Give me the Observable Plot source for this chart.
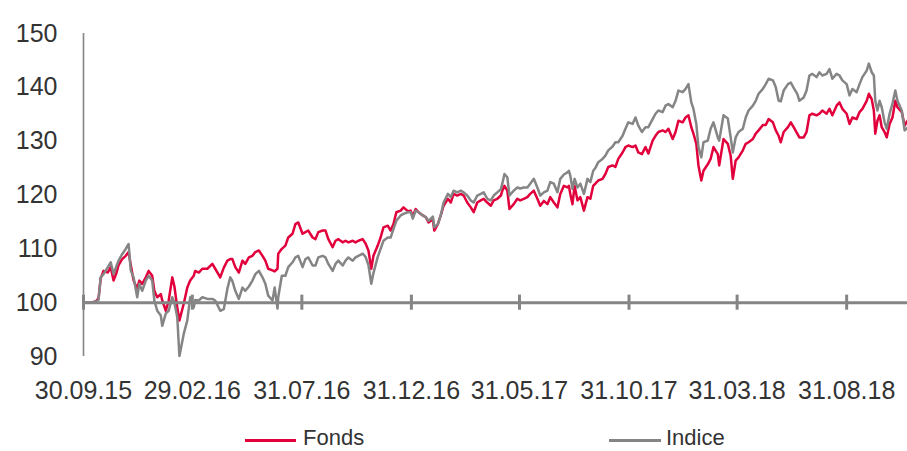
<!DOCTYPE html>
<html>
<head>
<meta charset="utf-8">
<script src="https://cdn.jsdelivr.net/npm/d3@7"></script>
<script src="https://cdn.jsdelivr.net/npm/@observablehq/plot@0.6"></script>
<style>
  html, body { margin: 0; padding: 0; background: #fff; }
  #wrap { position: relative; width: 907px; height: 451px; overflow: hidden; font-family: "Liberation Sans", Arial, sans-serif; }
  #chart svg { display: block; }
  .lg { position: absolute; top: 427px; font-size: 22px; color: #333; line-height: 22px; height: 23px; white-space: nowrap; }
  .lg .sw { position: absolute; top: 12px; height: 3px; }
</style>
</head>
<body>
<div id="wrap">
  <div id="chart"></div>
  <div class="lg" style="left:245px;"><span class="sw" style="left:0;width:51px;background:#E2003C;"></span><span style="margin-left:58px;">Fonds</span></div>
  <div class="lg" style="left:609px;"><span class="sw" style="left:0;width:52px;background:#858585;"></span><span style="margin-left:57px;">Indice</span></div>
</div>
<script>
const dates = [
"2015-09-30","2015-10-10","2015-10-17","2015-10-21","2015-10-24","2015-10-28","2015-11-03","2015-11-07","2015-11-11","2015-11-15",
"2015-11-18","2015-11-23","2015-11-28","2015-12-02","2015-12-05","2015-12-09","2015-12-14","2015-12-17","2015-12-21","2015-12-26",
"2015-12-30","2016-01-04","2016-01-07","2016-01-11","2016-01-16","2016-01-18","2016-01-23","2016-01-27","2016-02-01","2016-02-04",
"2016-02-08","2016-02-11","2016-02-17","2016-02-22","2016-02-26","2016-03-02","2016-03-04","2016-03-09","2016-03-14","2016-03-21",
"2016-03-28","2016-04-01","2016-04-08","2016-04-13","2016-04-18","2016-04-22","2016-04-25","2016-04-29","2016-05-04","2016-05-09",
"2016-05-13","2016-05-18","2016-05-23","2016-05-27","2016-06-01","2016-06-06","2016-06-10","2016-06-14","2016-06-20","2016-06-23",
"2016-06-27","2016-06-28","2016-07-03","2016-07-08","2016-07-12","2016-07-18","2016-07-22","2016-07-26","2016-08-01","2016-08-05",
"2016-08-09","2016-08-15","2016-08-19","2016-08-23","2016-08-29","2016-09-02","2016-09-06","2016-09-12","2016-09-16","2016-09-20",
"2016-09-26","2016-09-30","2016-10-04","2016-10-10","2016-10-14","2016-10-18","2016-10-24","2016-10-28","2016-11-01","2016-11-05",
"2016-11-08","2016-11-14","2016-11-18","2016-11-22","2016-11-28","2016-12-02","2016-12-06","2016-12-10","2016-12-16","2016-12-20",
"2016-12-26","2016-12-30","2017-01-02","2017-01-06","2017-01-10","2017-01-16","2017-01-20","2017-01-24","2017-01-30","2017-02-01",
"2017-02-06","2017-02-10","2017-02-14","2017-02-20","2017-02-24","2017-02-28","2017-03-05","2017-03-10","2017-03-14","2017-03-19",
"2017-03-24","2017-03-28","2017-04-02","2017-04-07","2017-04-11","2017-04-16","2017-04-21","2017-04-25","2017-04-30","2017-05-05",
"2017-05-07","2017-05-10","2017-05-14","2017-05-17","2017-05-23","2017-05-28","2017-06-01","2017-06-06","2017-06-11","2017-06-15",
"2017-06-20","2017-06-25","2017-06-29","2017-07-04","2017-07-09","2017-07-13","2017-07-18","2017-07-23","2017-07-27","2017-08-01",
"2017-08-06","2017-08-08","2017-08-10","2017-08-13","2017-08-16","2017-08-20","2017-08-24","2017-08-29","2017-09-03","2017-09-07",
"2017-09-11","2017-09-14","2017-09-18","2017-09-24","2017-09-28","2017-10-02","2017-10-08","2017-10-12","2017-10-16","2017-10-22",
"2017-10-26","2017-10-30","2017-11-05","2017-11-09","2017-11-13","2017-11-18","2017-11-23","2017-11-27","2017-12-03","2017-12-07",
"2017-12-11","2017-12-17","2017-12-21","2017-12-25","2017-12-31","2018-01-04","2018-01-08","2018-01-14","2018-01-18","2018-01-22",
"2018-01-26","2018-01-29","2018-02-02","2018-02-05","2018-02-09","2018-02-12","2018-02-18","2018-02-22","2018-02-26","2018-03-04",
"2018-03-06","2018-03-12","2018-03-18","2018-03-22","2018-03-25","2018-03-29","2018-04-02","2018-04-08","2018-04-12","2018-04-16",
"2018-04-22","2018-04-26","2018-04-30","2018-05-06","2018-05-10","2018-05-14","2018-05-20","2018-05-24","2018-05-28","2018-05-31",
"2018-06-04","2018-06-10","2018-06-14","2018-06-18","2018-06-23","2018-06-26","2018-07-02","2018-07-06","2018-07-10","2018-07-14",
"2018-07-20","2018-07-24","2018-07-28","2018-08-03","2018-08-07","2018-08-11","2018-08-17","2018-08-21","2018-08-25","2018-08-31",
"2018-09-04","2018-09-08","2018-09-14","2018-09-18","2018-09-22","2018-09-28","2018-10-01","2018-10-05","2018-10-08","2018-10-10",
"2018-10-13","2018-10-16","2018-10-19","2018-10-23","2018-10-26","2018-10-30","2018-11-03","2018-11-07","2018-11-10","2018-11-16",
"2018-11-20","2018-11-24"
];
const fonds = [
100.0,100.0,100.2,100.8,104.5,105.9,105.6,106.6,104.1,105.5,
107.0,108.1,108.7,109.4,107.0,104.1,102.6,104.1,103.5,104.7,
105.9,105.0,102.2,101.0,101.6,100.4,98.5,100.4,104.7,103.0,
99.1,96.7,99.8,102.8,104.1,105.0,105.9,105.6,106.3,106.3,
107.2,106.3,104.7,106.5,107.8,108.1,108.1,106.6,105.6,107.8,
107.2,108.4,108.7,109.4,109.7,108.7,107.8,106.3,106.0,105.8,
106.3,109.1,110.0,110.6,112.1,112.8,114.6,114.9,112.8,113.1,
113.4,112.1,111.8,113.1,113.4,113.4,111.8,110.3,111.5,111.8,
111.2,111.5,111.2,111.5,111.2,111.5,111.8,111.0,109.7,106.3,
108.7,110.6,112.1,114.0,114.3,113.4,114.6,116.8,117.1,117.7,
117.0,117.1,116.0,117.4,116.8,116.2,115.9,114.9,115.5,113.4,
114.6,116.2,118.0,119.3,118.6,120.2,119.9,120.2,119.9,118.6,
117.7,116.8,118.6,119.0,119.3,118.6,118.0,119.0,119.3,119.9,
120.8,121.7,120.8,117.4,118.3,119.3,119.0,119.3,119.6,120.2,
120.8,119.3,118.0,118.9,118.3,119.6,118.6,117.7,120.2,121.7,
121.4,121.7,120.2,118.3,121.7,119.0,119.6,117.1,119.6,119.3,
121.7,122.1,122.7,123.0,123.9,125.2,125.5,125.2,126.7,127.9,
128.9,129.2,128.9,129.2,127.9,127.6,128.9,127.7,130.1,131.0,
131.7,132.0,131.7,132.3,130.4,131.7,133.8,133.5,134.4,134.8,
132.6,131.4,129.5,125.5,122.7,124.5,125.7,126.7,128.9,127.6,
125.5,130.4,129.5,127.3,123.0,126.4,127.0,128.3,129.5,129.8,
130.4,131.4,132.0,133.0,133.0,134.1,133.5,132.0,131.0,129.8,
131.7,132.6,133.5,132.6,131.4,130.7,130.7,131.7,134.8,135.1,
134.8,135.1,135.7,135.1,136.0,134.8,136.6,137.2,136.0,135.1,
133.2,134.4,134.1,135.4,136.0,137.5,138.8,137.8,135.7,131.4,
133.8,134.8,132.6,131.7,130.7,133.2,134.4,137.5,136.3,135.4,
132.9,133.8
];
const indice = [
100.0,100.0,100.2,100.5,104.7,105.3,106.6,107.5,105.3,106.8,
107.8,109.0,110.0,110.9,106.0,104.7,101.0,103.5,102.2,104.1,
105.0,104.1,100.4,98.5,97.6,95.7,98.0,98.5,101.0,100.0,
97.3,90.1,94.2,96.7,101.0,99.1,100.5,100.4,101.0,100.7,
100.7,100.4,98.5,98.8,102.6,104.7,104.0,102.2,100.7,102.8,
102.2,103.0,104.1,105.3,105.9,104.7,103.5,101.3,100.4,102.8,
98.9,101.0,105.0,105.0,106.6,107.5,108.4,108.7,106.6,108.1,
108.4,106.9,106.9,108.4,108.7,108.4,107.2,105.9,107.2,107.8,
106.9,107.8,108.4,107.8,108.4,108.7,109.1,108.5,107.0,103.5,
105.5,108.5,110.0,111.5,112.1,112.1,113.7,115.2,116.2,116.5,
116.8,116.8,115.6,117.1,116.8,116.2,115.9,115.2,116.0,114.0,
114.6,116.2,118.6,120.2,119.6,120.8,120.5,120.8,120.5,119.9,
119.0,118.6,119.9,120.2,120.5,119.3,119.0,119.9,120.5,121.1,
122.1,123.9,123.3,119.9,120.8,121.4,121.2,121.4,121.4,122.1,
123.0,121.4,119.9,120.5,120.8,122.4,122.1,120.5,123.0,123.8,
124.2,124.5,123.6,121.1,123.0,121.4,122.1,120.2,123.0,122.4,
124.5,125.0,126.1,126.7,127.3,128.3,129.0,129.8,129.8,131.0,
132.3,133.5,133.2,134.4,132.9,131.7,132.6,132.6,134.1,135.1,
135.7,135.4,136.6,136.9,136.3,137.5,139.4,139.1,139.7,140.6,
137.2,136.0,133.2,128.9,127.0,129.8,130.1,132.3,133.5,130.7,
130.1,134.8,134.2,130.7,127.9,130.7,131.7,132.3,134.4,135.7,
136.6,137.5,138.8,139.7,140.6,141.6,141.3,140.0,137.5,137.4,
139.4,140.6,140.9,139.9,138.8,137.5,138.1,139.4,142.2,142.5,
141.9,142.8,142.2,142.5,143.4,141.6,142.5,142.2,141.3,140.6,
138.5,139.7,139.1,140.6,141.9,143.1,144.4,142.8,142.2,137.5,
135.7,137.5,136.3,133.5,132.3,135.1,137.0,139.4,137.5,135.7,
132.0,132.5
];
const tickDates = ["2015-09-30","2016-02-29","2016-07-31","2016-12-31","2017-05-31","2017-10-31","2018-03-31","2018-08-31"];
const tickLabels = ["30.09.15","29.02.16","31.07.16","31.12.16","31.05.17","31.10.17","31.03.18","31.08.18"];
const yTicks = [90, 100, 110, 120, 130, 140, 150];
const xDomain = ["2015-09-30", "2018-11-24"];

const parse = s => new Date(s + "T00:00:00Z");
const fondsData = dates.map((d, i) => ({date: parse(d), v: fonds[i]}));
const indiceData = dates.map((d, i) => ({date: parse(d), v: indice[i]}));
const tickD = tickDates.map(parse);
const labelMap = new Map(tickD.map((d, i) => [+d, tickLabels[i]]));

const RED = "#E2003C", GRAY = "#858585";

const chart = Plot.plot({
  width: 907,
  height: 410,
  marginLeft: 83,
  marginRight: 0,
  marginTop: 33,
  marginBottom: 54,
  style: {fontFamily: "'Liberation Sans', Arial, sans-serif", fontSize: "25px", color: "#333", background: "#fff", overflow: "visible"},
  x: {type: "utc", domain: xDomain.map(parse)},
  y: {domain: [90, 150]},
  marks: [
    Plot.axisY({ticks: yTicks, tickSize: 0, tickPadding: 26, label: null, letterSpacing: 1}),
    Plot.axisX({ticks: tickD, tickSize: 0, tickPadding: 25, label: null, tickFormat: d => labelMap.get(+d), letterSpacing: 0.8}),
    Plot.ruleX([parse(xDomain[0])], {y1: 90, y2: 150, stroke: GRAY, strokeWidth: 1.6}),
    Plot.lineY(fondsData, {x: "date", y: "v", stroke: RED, strokeWidth: 2.5}),
    Plot.lineY(indiceData, {x: "date", y: "v", stroke: GRAY, strokeWidth: 2.5}),
    Plot.ruleY([100], {stroke: GRAY, strokeWidth: 3}),
    Plot.ruleX(tickD, {y1: 98.6, y2: 101.4, stroke: GRAY, strokeWidth: 3})
  ]
});
document.getElementById("chart").appendChild(chart);
</script>
</body>
</html>
